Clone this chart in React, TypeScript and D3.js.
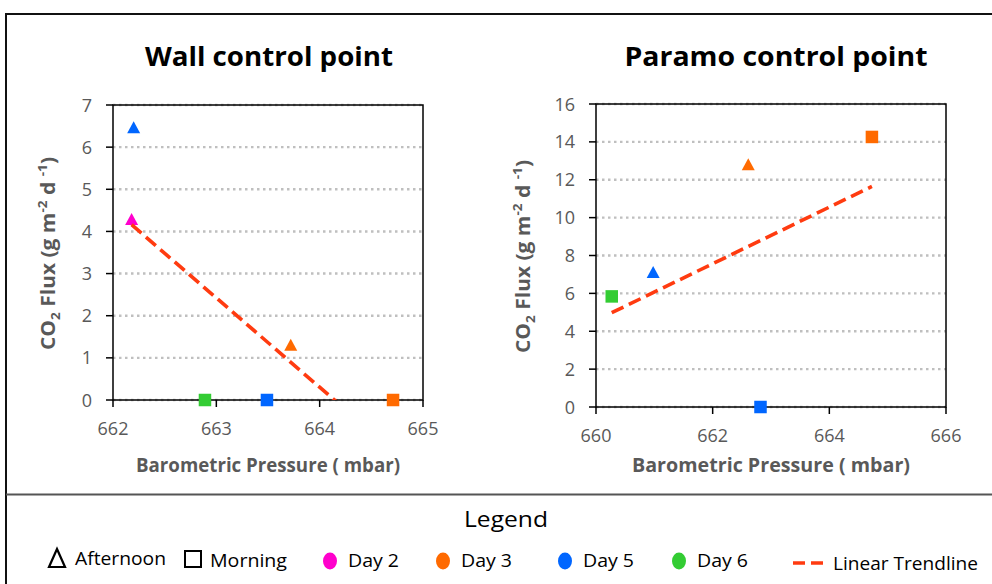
import React from "react";
import * as d3 from "d3";

// Wall control point observations
const wallPressure = [662.2, 662.18, 663.72, 662.89, 663.49, 664.71];
const wallFlux = [6.45, 4.27, 1.29, 0, 0, 0];
const wallDay = ["Day 5", "Day 2", "Day 3", "Day 6", "Day 5", "Day 3"];
const wallTime = ["Afternoon", "Afternoon", "Afternoon", "Morning", "Morning", "Morning"];

// Paramo control point observations
const paramoPressure = [660.27, 660.98, 662.61, 664.73, 662.82];
const paramoFlux = [5.84, 7.07, 12.76, 14.26, 0];
const paramoDay = ["Day 6", "Day 5", "Day 3", "Day 3", "Day 5"];
const paramoTime = ["Morning", "Afternoon", "Afternoon", "Morning", "Morning"];

// Axis ticks
const wallXTicks = [662, 663, 664, 665];
const wallYTicks = [0, 1, 2, 3, 4, 5, 6, 7];
const paramoXTicks = [660, 662, 664, 666];
const paramoYTicks = [0, 2, 4, 6, 8, 10, 12, 14, 16];

// Legend entries
const dayNames = ["Day 2", "Day 3", "Day 5", "Day 6"];
const dayColors = ["#ff00cc", "#ff6a00", "#0066ff", "#33cc33"];
const timeNames = ["Afternoon", "Morning"];

const dayColor = d3.scaleOrdinal<string, string>().domain(dayNames).range(dayColors);
const TREND = "#ff3b10";
const AXIS_GRAY = "#595959";
const FONT = "'Open Sans', 'DejaVu Sans', sans-serif";

type Rect = { left: number; right: number; top: number; bottom: number };

// Least-squares line through the series
function fit(xs: number[], ys: number[]) {
  const mx = d3.mean(xs)!;
  const my = d3.mean(ys)!;
  const sxy = d3.sum(xs, (x, i) => (x - mx) * (ys[i] - my));
  const sxx = d3.sum(xs, (x) => (x - mx) * (x - mx));
  const slope = sxy / sxx;
  return { slope, intercept: my - slope * mx };
}

function Marker({ x, y, time, color }: { x: number; y: number; time: string; color: string }) {
  if (time === "Afternoon") {
    const h = 12;
    const w = 13;
    const pts = `${x},${y - h / 2 - 1} ${x + w / 2},${y + h / 2 - 1} ${x - w / 2},${y + h / 2 - 1}`;
    return <polygon points={pts} fill={color} />;
  }
  const s = 12.5;
  return <rect x={x - s / 2} y={y - s / 2} width={s} height={s} fill={color} />;
}

function Panel(props: {
  id: string;
  title: string;
  titleX: number;
  titleWidth: number;
  rect: Rect;
  xDomain: [number, number];
  yDomain: [number, number];
  xTicks: number[];
  yTicks: number[];
  pressure: number[];
  flux: number[];
  day: string[];
  time: string[];
  yTitleX: number;
  xTitleWidth: number;
}) {
  const { rect } = props;
  const x = d3.scaleLinear().domain(props.xDomain).range([rect.left, rect.right]);
  const y = d3.scaleLinear().domain(props.yDomain).range([rect.bottom, rect.top]);
  const { slope, intercept } = fit(props.pressure, props.flux);
  const [x0, x1] = d3.extent(props.pressure) as [number, number];
  const trend = d3.line<number>()
    .x((v) => x(v))
    .y((v) => y(slope * v + intercept))([x0, x1]);
  const midX = (rect.left + rect.right) / 2;
  const midY = (rect.top + rect.bottom) / 2;
  return (
    <g>
      <defs>
        <clipPath id={props.id}>
          <rect x={rect.left} y={rect.top - 10} width={rect.right - rect.left + 10} height={rect.bottom - rect.top + 10} />
        </clipPath>
      </defs>
      <text x={props.titleX} y={66} textAnchor="middle" fontFamily={FONT} fontWeight={700} fontSize={27}
        textLength={props.titleWidth} lengthAdjust="spacingAndGlyphs" fill="#000">{props.title}</text>
      {props.yTicks.map((t) => (
        <line key={"g" + t} x1={rect.left} x2={rect.right} y1={y(t)} y2={y(t)}
          stroke="#bfbfbf" strokeWidth={2.4} strokeDasharray="2.5 3.5" />
      ))}
      <rect x={rect.left} y={rect.top} width={rect.right - rect.left} height={rect.bottom - rect.top}
        fill="none" stroke="#000" strokeWidth={1.5} />
      {props.yTicks.map((t) => (
        <g key={"y" + t}>
          <line x1={rect.left - 7} x2={rect.left} y1={y(t)} y2={y(t)} stroke="#000" strokeWidth={1.5} />
          <text x={rect.left - 21} y={y(t) + 6.5} textAnchor="end" fontFamily={FONT} fontSize={18} fill={AXIS_GRAY}>{t}</text>
        </g>
      ))}
      {props.xTicks.map((t) => (
        <g key={"x" + t}>
          <line x1={x(t)} x2={x(t)} y1={rect.bottom} y2={rect.bottom + 7} stroke="#000" strokeWidth={1.5} />
          <text x={x(t)} y={rect.bottom + 35} textAnchor="middle" fontFamily={FONT} fontSize={18} fill={AXIS_GRAY}>{t}</text>
        </g>
      ))}
      <text x={midX} y={472} textAnchor="middle" fontFamily={FONT} fontWeight={700} fontSize={19}
        textLength={props.xTitleWidth} lengthAdjust="spacingAndGlyphs" fill={AXIS_GRAY}>Barometric Pressure ( mbar)</text>
      <text transform={`translate(${props.yTitleX},${midY + 1}) rotate(-90)`} textAnchor="middle"
        fontFamily={FONT} fontWeight={700} fontSize={20} fill={AXIS_GRAY} textLength={193} lengthAdjust="spacingAndGlyphs">
        CO<tspan fontSize={13} dy={5}>2</tspan><tspan dy={-5}> Flux (g m</tspan>
        <tspan fontSize={13} dy={-8}>-2</tspan><tspan dy={8}> d </tspan>
        <tspan fontSize={13} dy={-8}>-1</tspan><tspan dy={8}>)</tspan>
      </text>
      {props.pressure.map((p, i) => (
        <Marker key={"m" + i} x={x(p)} y={y(props.flux[i])} time={props.time[i]} color={dayColor(props.day[i])} />
      ))}
      <path d={trend ?? ""} clipPath={`url(#${props.id})`} fill="none" stroke={TREND} strokeWidth={3.6}
        strokeDasharray="13 6" />
    </g>
  );
}

export default function App() {
  const legendY = 567;
  const dayX = [330, 443, 565, 679];
  return (
    <svg width={992} height={584} style={{ position: "absolute", left: 0, top: 0, background: "#fff" }}>
      <rect x={0} y={0} width={992} height={584} fill="#fff" />
      {/* frame */}
      <line x1={5} x2={992} y1={14} y2={14} stroke="#111" strokeWidth={2} />
      <line x1={6} x2={6} y1={13} y2={584} stroke="#111" strokeWidth={2} />
      <line x1={6} x2={992} y1={494.5} y2={494.5} stroke="#555" strokeWidth={2} />

      <Panel id="wallClip" title="Wall control point" titleX={269} titleWidth={248}
        rect={{ left: 113, right: 423, top: 105, bottom: 400 }}
        xDomain={[662, 665]} yDomain={[0, 7]} xTicks={wallXTicks} yTicks={wallYTicks}
        pressure={wallPressure} flux={wallFlux} day={wallDay} time={wallTime}
        yTitleX={55} xTitleWidth={264} />
      <Panel id="paramoClip" title="Paramo control point" titleX={776} titleWidth={303}
        rect={{ left: 596, right: 946, top: 104, bottom: 407 }}
        xDomain={[660, 666]} yDomain={[0, 16]} xTicks={paramoXTicks} yTicks={paramoYTicks}
        pressure={paramoPressure} flux={paramoFlux} day={paramoDay} time={paramoTime}
        yTitleX={530} xTitleWidth={278} />

      {/* legend */}
      <text x={506} y={527} textAnchor="middle" fontFamily={FONT} fontSize={22} fill="#000"
        textLength={84} lengthAdjust="spacingAndGlyphs">Legend</text>
      <polygon points={`57,549 65,567 49,567`} fill="none" stroke="#000" strokeWidth={2.2} />
      <text x={75} y={legendY - 2} fontFamily={FONT} fontSize={19} fill="#000" textLength={91}
        lengthAdjust="spacingAndGlyphs">{timeNames[0]}</text>
      <rect x={185} y={551} width={16} height={16} fill="none" stroke="#000" strokeWidth={2} />
      <text x={210} y={legendY} fontFamily={FONT} fontSize={19} fill="#000" textLength={77}
        lengthAdjust="spacingAndGlyphs">{timeNames[1]}</text>
      {dayNames.map((d, i) => (
        <g key={d}>
          <ellipse cx={dayX[i]} cy={561} rx={7} ry={8.5} fill={dayColor(d)} />
          <text x={dayX[i] + 18} y={legendY} fontFamily={FONT} fontSize={19} fill="#000" textLength={51}
            lengthAdjust="spacingAndGlyphs">{d}</text>
        </g>
      ))}
      <line x1={793} x2={823} y1={563} y2={563} stroke={TREND} strokeWidth={3.5} strokeDasharray="12 6" />
      <text x={833} y={legendY + 3} fontFamily={FONT} fontSize={19} fill="#000" textLength={145}
        lengthAdjust="spacingAndGlyphs">Linear Trendline</text>
    </svg>
  );
}
